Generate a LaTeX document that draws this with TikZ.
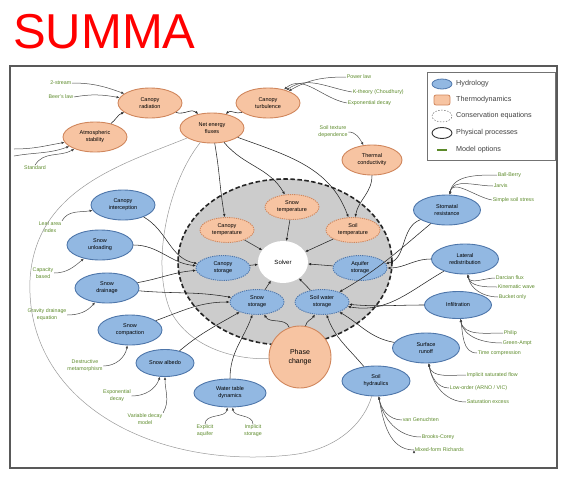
\documentclass[tikz,border=0pt]{standalone}
\usepackage{fontspec}
\setmainfont{Liberation Sans}
\usepackage{tikz}
\usetikzlibrary{arrows.meta,shapes.geometric}

\definecolor{hydroFill}{RGB}{146,184,226}
\definecolor{hydroDraw}{RGB}{78,118,170}
\definecolor{thermoFill}{RGB}{247,196,162}
\definecolor{thermoDraw}{RGB}{208,134,92}
\definecolor{optGreen}{RGB}{92,138,42}
\definecolor{coreGray}{RGB}{204,204,204}

\begin{document}
\begin{tikzpicture}[x=1pt, y=-1pt, >={Latex[length=3pt,width=2.6pt]},
  proc/.style={ellipse, draw, line width=0.9pt, inner sep=0pt, align=center,
    font=\fontsize{5.5}{7}\selectfont, minimum width=64pt, minimum height=30pt},
  hydro/.style={proc, fill=hydroFill, draw=hydroDraw},
  thermo/.style={proc, fill=thermoFill, draw=thermoDraw},
  cons/.style={dash pattern=on 1.2pt off 1pt, minimum width=54pt, minimum height=25pt},
  modelopt/.style={text=optGreen, align=center, font=\fontsize{5.3}{7}\selectfont, inner sep=0.6pt},
  keytext/.style={anchor=west, inner sep=0pt, font=\fontsize{7.2}{8}\selectfont, text=black!75},
  link/.style={->, line width=0.55pt, draw=black!85},
  optlink/.style={->, line width=0.5pt, draw=black!70},
  feed/.style={line width=0.5pt, draw=black!40}]

  \useasboundingbox (0,0) rectangle (568,477);

  % title and frame
  \node[anchor=base west, inner sep=0pt, text=red, font=\fontsize{49}{49}\selectfont] (title) at (13,48) {SUMMA};
  \draw[line width=2.4pt, black!65] (10,66) rectangle (557,468);

  % legend
  \draw[black!55, line width=0.6pt] (427,72) rectangle (555,160);
  \node[ellipse, fill=hydroFill, draw=hydroDraw, line width=0.8pt, minimum width=20pt, minimum height=10pt] (keyHydro) at (442,84) {};
  \node[rectangle, rounded corners=2pt, fill=thermoFill, draw=thermoDraw, line width=0.8pt, minimum width=16pt, minimum height=10pt] (keyThermo) at (442,100) {};
  \node[ellipse, draw=black!70, dash pattern=on 1.5pt off 1.5pt, minimum width=20pt, minimum height=12pt] (keyCons) at (442,116) {};
  \node[ellipse, draw=black!80, line width=0.9pt, minimum width=20pt, minimum height=11pt] (keyProc) at (442,133) {};
  \draw[optGreen, line width=1.2pt] (437,150) -- (447,150);
  \node[keytext] (keyHydroTxt) at (456,84) {Hydrology};
  \node[keytext] (keyThermoTxt) at (456,100) {Thermodynamics};
  \node[keytext] (keyConsTxt) at (456,116) {Conservation equations};
  \node[keytext] (keyProcTxt) at (456,133) {Physical processes};
  \node[keytext] (keyOptTxt) at (456,150) {Model options};

  % conservation equations
  \node[ellipse, fill=coreGray, draw=black!85, line width=1.6pt, dash pattern=on 4.5pt off 2.5pt,
    minimum width=214pt, minimum height=166pt] (core) at (285,262) {};
  \node[ellipse, fill=white, minimum width=50pt, minimum height=42pt, font=\fontsize{6}{7}\selectfont] (solver) at (283,262) {Solver};
  \node[thermo, cons] (canTemp) at (227,230) {Canopy\\temperature};
  \node[thermo, cons] (snowTemp) at (292,207) {Snow\\temperature};
  \node[thermo, cons] (soilTemp) at (353,230) {Soil\\temperature};
  \node[hydro, cons] (canSto) at (223,268) {Canopy\\storage};
  \node[hydro, cons] (aqSto) at (360,268) {Aquifer\\storage};
  \node[hydro, cons] (snowSto) at (257,302) {Snow\\storage};
  \node[hydro, cons] (soilSto) at (322,302) {Soil water\\storage};
  \node[thermo, minimum width=62pt, minimum height=62pt, font=\fontsize{7}{8.5}\selectfont] (phase) at (300,357) {Phase\\change};

  % thermodynamic processes
  \node[thermo] (canRad) at (150,103) {Canopy\\radiation};
  \node[thermo] (netFlux) at (212,128) {Net energy\\fluxes};
  \node[thermo] (canTurb) at (268,103) {Canopy\\turbulence};
  \node[thermo] (atmStab) at (95,137) {Atmospheric\\stability};
  \node[thermo, minimum width=60pt] (thermCond) at (372,160) {Thermal\\conductivity};

  % hydrologic processes
  \node[hydro] (canInt) at (123,205) {Canopy\\interception};
  \node[hydro, minimum width=66pt] (snowUnl) at (100,245) {Snow\\unloading};
  \node[hydro] (snowDrain) at (107,288) {Snow\\drainage};
  \node[hydro] (snowComp) at (130,330) {Snow\\compaction};
  \node[hydro, minimum width=58pt, minimum height=27pt] (snowAlb) at (165,363) {Snow albedo};
  \node[hydro, minimum width=72pt, minimum height=28pt] (waterTab) at (230,393) {Water table\\dynamics};
  \node[hydro, minimum width=67pt] (stomRes) at (447,210) {Stomatal\\resistance};
  \node[hydro, minimum width=67pt] (latFlow) at (465,259) {Lateral\\redistribution};
  \node[hydro, minimum width=67pt, minimum height=27pt] (infil) at (458,305) {Infiltration};
  \node[hydro, minimum width=67pt] (runoff) at (426,348) {Surface\\runoff};
  \node[hydro, minimum width=68pt] (soilHyd) at (376,381) {Soil\\hydraulics};

  % model options
  \node[modelopt, anchor=east] (optCanRadA) at (72,83) {2-stream};
  \node[modelopt, anchor=east] (optCanRadB) at (74,97) {Beer's law};
  \node[modelopt] (optAtmStab) at (35,168) {Standard};
  \coordinate (fanA) at (14,149);
  \coordinate (fanB) at (14,156);
  \node[modelopt, anchor=west] (optCanTurbA) at (346,77) {Power law};
  \node[modelopt, anchor=west] (optCanTurbB) at (352,92) {K-theory (Choudhury)};
  \node[modelopt, anchor=west] (optCanTurbC) at (347,103) {Exponential decay};
  \node[modelopt] (optThermCond) at (333,132) {Soil texture\\dependence};
  \node[modelopt] (optCanInt) at (50,227) {Leaf area\\index};
  \node[modelopt] (optSnowUnl) at (43,273) {Capacity\\based};
  \node[modelopt] (optSnowDrain) at (47,315) {Gravity drainage\\equation};
  \node[modelopt] (optSnowComp) at (85,366) {Destructive\\metamorphism};
  \node[modelopt] (optSnowAlbA) at (117,396) {Exponential\\decay};
  \node[modelopt] (optSnowAlbB) at (145,419) {Variable decay\\model};
  \node[modelopt] (optWaterTabA) at (205,431) {Explicit\\aquifer};
  \node[modelopt] (optWaterTabB) at (253,431) {Implicit\\storage};
  \node[modelopt, anchor=west] (optStomResA) at (497,175) {Ball-Berry};
  \node[modelopt, anchor=west] (optStomResB) at (493,186) {Jarvis};
  \node[modelopt, anchor=west] (optStomResC) at (492,200) {Simple soil stress};
  \node[modelopt, anchor=west] (optLatFlowA) at (495,278) {Darcian flux};
  \node[modelopt, anchor=west] (optLatFlowB) at (497,287) {Kinematic wave};
  \node[modelopt, anchor=west] (optLatFlowC) at (498,297) {Bucket only};
  \node[modelopt, anchor=west] (optInfilA) at (503,333) {Philip};
  \node[modelopt, anchor=west] (optInfilB) at (502,343) {Green-Ampt};
  \node[modelopt, anchor=west] (optInfilC) at (477,353) {Time compression};
  \node[modelopt, anchor=west] (optRunoffA) at (466,375) {Implicit saturated flow};
  \node[modelopt, anchor=west] (optRunoffB) at (449,388) {Low-order (ARNO / VIC)};
  \node[modelopt, anchor=west] (optRunoffC) at (466,402) {Saturation excess};
  \node[modelopt, anchor=west] (optSoilHydA) at (402,420) {van Genuchten};
  \node[modelopt, anchor=west] (optSoilHydB) at (421,437) {Brooks-Corey};
  \node[modelopt, anchor=west] (optSoilHydC) at (414,450) {Mixed-form Richards};

  % long feedback curves
  \draw[feed] (netFlux) .. controls (120,165) and (35,190) .. (30,280)
    .. controls (25,400) and (150,470) .. (290,455)
    .. controls (340,450) and (365,420) .. (soilHyd);
  \draw[feed] (netFlux) .. controls (170,180) and (150,260) .. (170,310)
    .. controls (190,350) and (240,360) .. (phase);

  \path[optlink]
  (optCanRadA.east) edge[out=0, in=160] (canRad)
  (optCanRadB.east) edge[out=10, in=170] (canRad)
  (optAtmStab.north) edge[out=60, in=210] (atmStab)
  (fanA) edge[out=0, in=190] (atmStab)
  (fanB) edge[out=10, in=200] (atmStab)
  (optCanTurbA.west) edge[out=180, in=30] (canTurb)
  (optCanTurbB.west) edge[out=170, in=35] (canTurb)
  (optCanTurbC.west) edge[out=170, in=40] (canTurb)
  (optThermCond.east) edge[out=0, in=120] (thermCond)
  (optCanInt.north east) edge[out=60, in=190] (canInt)
  (optSnowUnl.east) edge[out=0, in=220] (snowUnl)
  (optSnowDrain.east) edge[out=0, in=230] (snowDrain)
  (optSnowComp.east) edge[out=0, in=260] (snowComp)
  (optSnowAlbA.east) edge[out=0, in=250] (snowAlb)
  (optSnowAlbB.north east) edge[out=60, in=270] (snowAlb)
  (optWaterTabA.north) edge[out=90, in=260] (waterTab)
  (optWaterTabB.north) edge[out=90, in=280] (waterTab)
  (optStomResA.west) edge[out=180, in=80] (stomRes)
  (optStomResB.west) edge[out=180, in=80] (stomRes)
  (optStomResC.west) edge[out=170, in=80] (stomRes)
  (optLatFlowA.west) edge[out=180, in=280] (latFlow)
  (optLatFlowB.west) edge[out=180, in=280] (latFlow)
  (optLatFlowC.west) edge[out=180, in=280] (latFlow)
  (optInfilA.west) edge[out=180, in=280] (infil)
  (optInfilB.west) edge[out=180, in=280] (infil)
  (optInfilC.west) edge[out=180, in=280] (infil)
  (optRunoffA.west) edge[out=180, in=280] (runoff)
  (optRunoffB.west) edge[out=180, in=280] (runoff)
  (optRunoffC.west) edge[out=180, in=280] (runoff)
  (optSoilHydA.west) edge[out=180, in=280] (soilHyd)
  (optSoilHydB.west) edge[out=180, in=280] (soilHyd)
  (optSoilHydC.west) edge[out=180, in=280] (soilHyd)
  ;
  \path[link]
  (atmStab) edge[out=40, in=200] (canRad)
  (canRad) edge[out=-20, in=135] (netFlux)
  (canTurb) edge[out=200, in=45] (netFlux)
  (netFlux) edge[out=-80, in=100] (canTemp)
  (netFlux) edge[out=-50, in=120] (snowTemp)
  (netFlux) edge[out=-20, in=110] (soilTemp)
  (thermCond) edge[out=-90, in=80] (soilTemp)
  (canInt) edge[out=-30, in=170] (canSto)
  (snowUnl) edge[out=0, in=175] (canSto)
  (snowDrain) edge[out=10, in=185] (canSto)
  (snowDrain) edge[out=-5, in=170] (snowSto)
  (snowComp) edge[out=20, in=180] (snowSto)
  (snowAlb) edge[out=40, in=210] (snowSto)
  (waterTab) edge[out=90, in=250] (snowSto)
  (phase) edge[out=110, in=-60] (snowSto)
  (phase) edge[out=80, in=-120] (soilSto)
  (stomRes) edge[out=200, in=10] (aqSto)
  (stomRes) edge[out=220, in=30] (soilSto)
  (latFlow) edge[out=180, in=0] (aqSto)
  (latFlow) edge[out=210, in=-10] (soilSto)
  (infil) edge[out=180, in=-5] (soilSto)
  (runoff) edge[out=170, in=-30] (soilSto)
  (soilHyd) edge[out=130, in=-70] (soilSto)
  ;
  \path[link]
  (canTemp) edge (solver)
  (snowTemp) edge (solver)
  (soilTemp) edge (solver)
  (canSto) edge (solver)
  (aqSto) edge (solver)
  (snowSto) edge (solver)
  (soilSto) edge (solver)
  ;
\end{tikzpicture}
\end{document}
